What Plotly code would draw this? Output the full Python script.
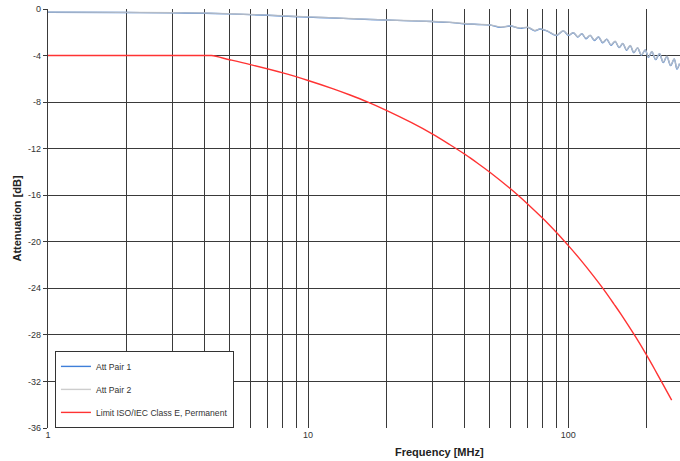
import plotly.graph_objects as go

# ---- data ----
freq_pair = [1, 2, 3, 4, 5, 6, 8, 10, 12, 15, 20, 25, 30, 35, 40, 45, 50, 55, 60, 65,
             70, 74.5, 78, 83.5, 90, 95.9, 100.3, 104.8, 108.8, 112.9, 117.1, 121.5, 126.1, 130.8, 135.7,
             140.8, 146.1, 151.6, 156.9, 162.3, 167.7, 173.2, 178.9, 184.8, 191.2,
             197.8, 203.7, 209.8, 217.0, 224.5, 232.0, 239.6, 247.6, 255.7, 262, 268]
att_pair1 = [-0.28, -0.30, -0.33, -0.36, -0.42, -0.48, -0.60, -0.70, -0.75, -0.85,
             -0.95, -1.02, -1.08, -1.15, -1.27, -1.33, -1.38, -1.58, -1.46, -1.66,
             -1.58, -1.88, -1.72, -1.92, -2.28,
             -1.88, -2.27, -2.04, -2.41, -2.13, -2.55, -2.27, -2.70, -2.41, -2.90,
             -2.60, -3.11, -2.78, -3.32, -2.97, -3.54, -3.15, -3.75, -3.34, -3.97,
             -3.52, -4.16, -3.66, -4.35, -3.84, -4.60, -4.07, -4.86, -4.30, -5.15, -4.70]
att_pair2 = [-0.27, -0.29, -0.32, -0.35, -0.41, -0.47, -0.58, -0.68, -0.74, -0.84,
             -0.94, -1.01, -1.07, -1.14, -1.25, -1.32, -1.37, -1.55, -1.45, -1.64,
             -1.57, -1.85, -1.71, -1.90, -2.25,
             -1.87, -2.24, -2.03, -2.38, -2.12, -2.52, -2.26, -2.67, -2.40, -2.87,
             -2.59, -3.08, -2.77, -3.29, -2.96, -3.51, -3.14, -3.72, -3.33, -3.94,
             -3.51, -4.13, -3.65, -4.32, -3.83, -4.57, -4.06, -4.83, -4.29, -5.12, -4.69]

freq_limit = [1, 2, 3, 4, 4.25, 5, 6, 8, 10, 12.5, 14.5, 16.9, 20, 25, 30, 35, 40, 45, 50, 60,
              63.5, 70, 80, 90, 97, 100, 111, 125, 136, 150, 160, 182, 200, 215, 229, 250]
att_limit = [-4.0, -4.0, -4.0, -4.0, -4.0, -4.36, -4.78, -5.49, -6.14, -6.86,
             -7.39, -7.98, -8.71, -9.77, -10.73, -11.64, -12.47, -13.27, -14.03, -15.45,
             -15.92, -16.77, -18.01, -19.19, -19.98, -20.31, -21.49, -22.93, -24.01, -25.35,
             -26.26, -28.2, -29.72, -30.95, -32.06, -33.6]

x_major_ticks = [1, 10, 100]
x_major_labels = ["1", "10", "100"]
x_minor_ticks = [2, 3, 4, 5, 6, 7, 8, 9, 20, 30, 40, 50, 60, 70, 80, 90, 200]
y_ticks = [-36, -32, -28, -24, -20, -16, -12, -8, -4, 0]
y_labels = ["-36", "-32", "-28", "-24", "-20", "-16", "-12", "-8", "-4", "0"]

series_names = ["Att Pair 1", "Att Pair 2", "Limit ISO/IEC Class E, Permanent"]

FONT = "Liberation Sans, Arial, sans-serif"
GRID = "#3a3a3a"

fig = go.Figure()
fig.add_trace(go.Scatter(x=freq_pair, y=att_pair1, mode="lines", name=series_names[0],
                         line=dict(color="#3f7fd9", width=1.4, shape="spline", smoothing=0.9),
                         legendgroup="a"))
fig.add_trace(go.Scatter(x=freq_pair, y=att_pair2, mode="lines", name=series_names[1],
                         line=dict(color="#c4c4c4", width=1.4, shape="spline", smoothing=0.9),
                         opacity=0.85, legendgroup="b"))
fig.add_trace(go.Scatter(x=freq_limit, y=att_limit, mode="lines", name=series_names[2],
                         line=dict(color="#ff3333", width=1.4, shape="spline", smoothing=1.0),
                         legendgroup="c"))

fig.update_layout(
    width=680, height=461,
    margin=dict(l=48, r=0, t=9, b=33),
    paper_bgcolor="white", plot_bgcolor="white",
    font=dict(family=FONT, size=9, color="#333333"),
    showlegend=True,
    legend=dict(x=0.011, y=0.184, xanchor="left", yanchor="top",
                bgcolor="white", bordercolor="#333333", borderwidth=1,
                font=dict(family=FONT, size=8.6, color="#333333"),
                tracegroupgap=4, itemwidth=30),
)

fig.update_xaxes(
    type="log", range=[0, 2.43],
    tickvals=x_major_ticks, ticktext=x_major_labels,
    showgrid=True, gridcolor=GRID, gridwidth=1.2,
    minor=dict(tickvals=x_minor_ticks, showgrid=True, gridcolor=GRID, gridwidth=1.2, ticks=""),
    ticks="", showline=False, zeroline=False,
    tickfont=dict(family=FONT, size=9, color="#333333"),
)
fig.update_yaxes(
    range=[-36, 0], tickvals=y_ticks, ticktext=y_labels,
    showgrid=True, gridcolor=GRID, gridwidth=1.2,
    ticks="outside", ticklen=4, tickcolor=GRID, tickwidth=1,
    showline=True, linecolor=GRID, linewidth=1.2, zeroline=False,
    tickfont=dict(family=FONT, size=9, color="#333333"),
)

fig.add_annotation(text="<b>Frequency [MHz]</b>", xref="paper", yref="paper",
                   x=0.62, y=-0.0573, xanchor="center", yanchor="middle", showarrow=False,
                   font=dict(family=FONT, size=11, color="#222222"))
fig.add_annotation(text="<b>Attenuation [dB]</b>", xref="paper", yref="paper",
                   x=-0.0506, y=0.5, xanchor="center", yanchor="middle", showarrow=False,
                   textangle=-90, font=dict(family=FONT, size=11, color="#222222"))

fig.write_html("out.html", config={"displayModeBar": False},
               post_script="document.body.style.margin='0';document.body.style.overflow='hidden';")
